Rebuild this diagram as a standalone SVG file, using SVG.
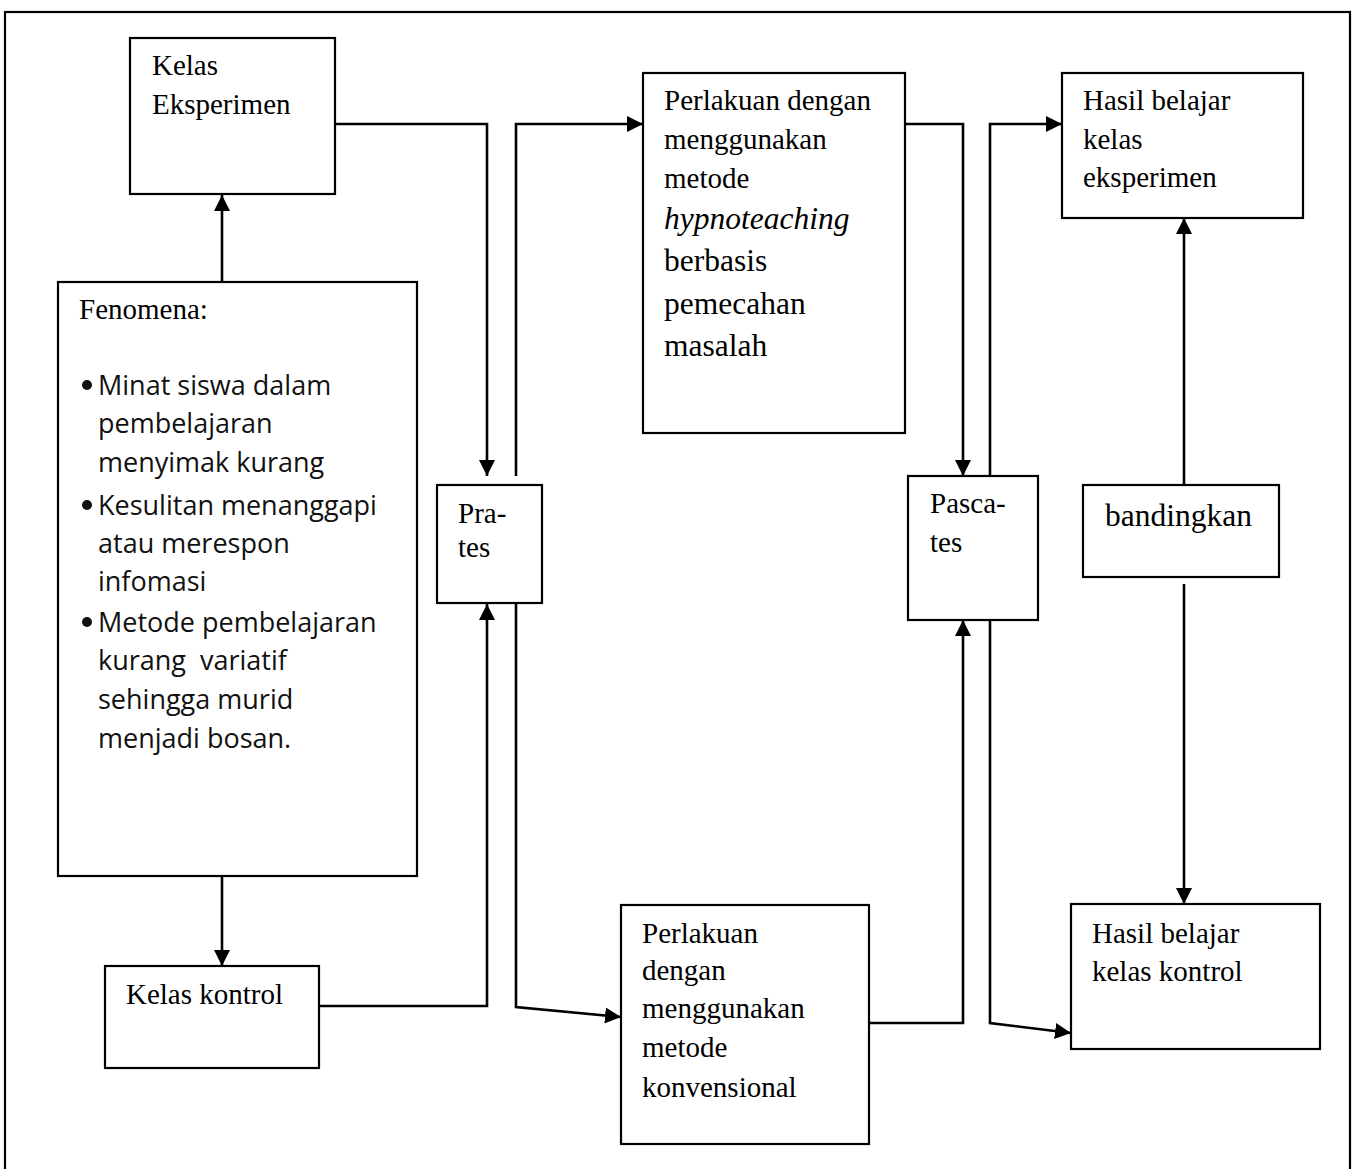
<svg xmlns="http://www.w3.org/2000/svg" width="1356" height="1169" viewBox="0 0 1356 1169">
<style>
.box{fill:#fff;stroke:#000;stroke-width:2.2}
.t{font-family:"Liberation Serif","Times New Roman",serif;font-size:29px;fill:#000}
.tl{font-family:"Liberation Serif","Times New Roman",serif;font-size:31.5px;fill:#000}
.b{font-family:"Open Sans","Noto Sans",sans-serif;font-size:27px;fill:#111}
.ca{fill:none;stroke:#000;stroke-width:2.6;marker-end:url(#ah)}
</style>
<defs>
<marker id="ah" viewBox="0 0 16 16" refX="16" refY="8" markerWidth="16" markerHeight="16" markerUnits="userSpaceOnUse" orient="auto">
<path d="M0,0 L16,8 L0,16 z" fill="#000"/>
</marker>
</defs>
<rect x="0" y="0" width="1356" height="1169" fill="#fff"/>
<rect x="5" y="12" width="1345" height="1175" fill="none" stroke="#000" stroke-width="2.2"/>

<g id="connectors">
<path class="ca" d="M222,282 V195"/>
<path class="ca" d="M222,876 V966"/>
<path class="ca" d="M335,124 H487 V476"/>
<path class="ca" d="M319,1006 H487 V604"/>
<path class="ca" d="M516,476 V124 H643"/>
<path class="ca" d="M516,603 V1007 L621,1017"/>
<path class="ca" d="M905,124 H963 V476"/>
<path class="ca" d="M869,1023 H963 V620"/>
<path class="ca" d="M990,476 V124 H1062"/>
<path class="ca" d="M990,620 V1023 L1071,1033"/>
<path class="ca" d="M1184,485 V218"/>
<path class="ca" d="M1184,584 V904"/>
</g>

<g id="kelas-eksperimen">
<rect class="box" x="130" y="38" width="205" height="156"/>
<text class="t" x="152" y="75">Kelas</text>
<text class="t" x="152" y="114">Eksperimen</text>
</g>

<g id="fenomena">
<rect class="box" x="58" y="282" width="359" height="594"/>
<text class="t" x="79" y="319">Fenomena:</text>
<circle cx="87" cy="385" r="5" fill="#111"/>
<circle cx="87" cy="505" r="5" fill="#111"/>
<circle cx="87" cy="622" r="5" fill="#111"/>
<text class="b" x="98" y="395">Minat siswa dalam</text>
<text class="b" x="98" y="433">pembelajaran</text>
<text class="b" x="98" y="472">menyimak kurang</text>
<text class="b" x="98" y="515">Kesulitan menanggapi</text>
<text class="b" x="98" y="553">atau merespon</text>
<text class="b" x="98" y="591">infomasi</text>
<text class="b" x="98" y="632">Metode pembelajaran</text>
<text class="b" x="98" y="670" xml:space="preserve">kurang  variatif</text>
<text class="b" x="98" y="709">sehingga murid</text>
<text class="b" x="98" y="748">menjadi bosan.</text>
</g>

<g id="kelas-kontrol">
<rect class="box" x="105" y="966" width="214" height="102"/>
<text class="t" x="126" y="1004">Kelas kontrol</text>
</g>

<g id="pra-tes">
<rect class="box" x="437" y="485" width="105" height="118"/>
<text class="t" x="458" y="523">Pra-</text>
<text class="t" x="458" y="557">tes</text>
</g>

<g id="perlakuan-hypnoteaching">
<rect class="box" x="643" y="73" width="262" height="360"/>
<text class="t" x="664" y="110">Perlakuan dengan</text>
<text class="t" x="664" y="149">menggunakan</text>
<text class="t" x="664" y="188">metode</text>
<text class="tl" x="664" y="229" font-style="italic">hypnoteaching</text>
<text class="tl" x="664" y="271">berbasis</text>
<text class="tl" x="664" y="314">pemecahan</text>
<text class="tl" x="664" y="356">masalah</text>
</g>

<g id="perlakuan-konvensional">
<rect class="box" x="621" y="905" width="248" height="239"/>
<text class="t" x="642" y="943">Perlakuan</text>
<text class="t" x="642" y="980">dengan</text>
<text class="t" x="642" y="1018">menggunakan</text>
<text class="t" x="642" y="1057">metode</text>
<text class="t" x="642" y="1097">konvensional</text>
</g>

<g id="pascates">
<rect class="box" x="908" y="476" width="130" height="144"/>
<text class="t" x="930" y="513">Pasca-</text>
<text class="t" x="930" y="552">tes</text>
</g>

<g id="hasil-eksperimen">
<rect class="box" x="1062" y="73" width="241" height="145"/>
<text class="t" x="1083" y="110">Hasil belajar</text>
<text class="t" x="1083" y="149">kelas</text>
<text class="t" x="1083" y="187">eksperimen</text>
</g>

<g id="bandingkan">
<rect class="box" x="1083" y="485" width="196" height="92"/>
<text class="tl" x="1105" y="526">bandingkan</text>
</g>

<g id="hasil-kontrol">
<rect class="box" x="1071" y="904" width="249" height="145"/>
<text class="t" x="1092" y="943">Hasil belajar</text>
<text class="t" x="1092" y="981">kelas kontrol</text>
</g>
</svg>
